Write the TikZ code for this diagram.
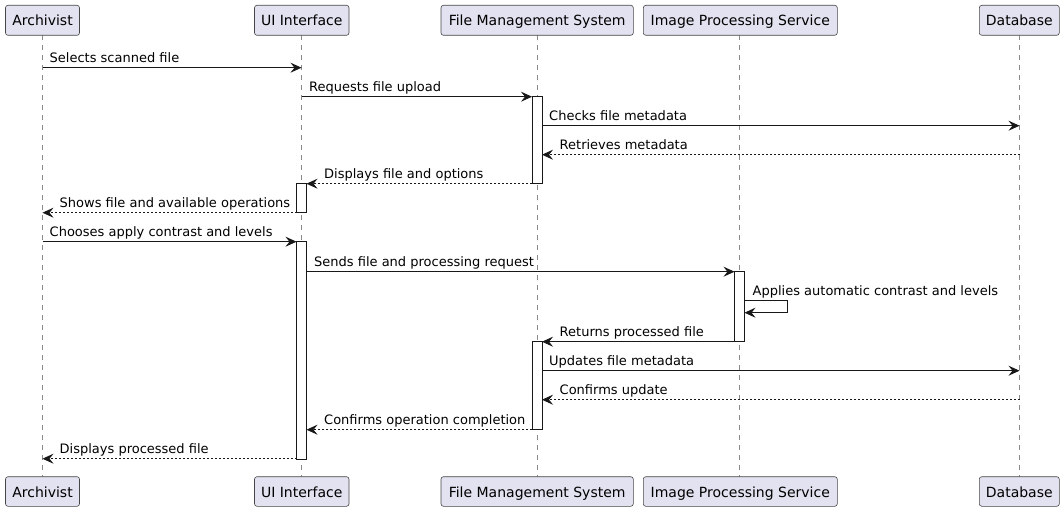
\documentclass[tikz,border=0pt]{standalone}
\usepackage{fontspec}
\setmainfont{DejaVu Sans}
\usetikzlibrary{arrows.meta}
\definecolor{pbox}{HTML}{E2E2F0}
\definecolor{pline}{HTML}{181818}
\definecolor{lline}{HTML}{8A8A8A}
\tikzset{
  partbox/.style={draw=pline!80, fill=pbox, line width=0.6pt, rounded corners=2.5pt},
  parttext/.style={inner sep=0pt, anchor=base, font=\fontsize{14}{16}\selectfont, text=black},
  lifeline/.style={draw=lline, line width=0.6pt, dash pattern=on 5pt off 5pt},
  actbox/.style={draw=pline, fill=white, line width=0.8pt},
  msg/.style={draw=pline, line width=0.9pt, -{Stealth[length=11pt,width=10pt,inset=4pt]}},
  ret/.style={msg, dash pattern=on 2pt off 2pt},
  lbl/.style={inner sep=0pt, anchor=base west, font=\fontsize{13}{15}\selectfont, text=black},
}
\begin{document}
\begin{tikzpicture}[x=1pt,y=-1pt]
\useasboundingbox (0,0) rectangle (1064,511);
% participant boxes (top and bottom)
\def\participant#1#2#3#4{%
  \draw[partbox] (#2,5.3) rectangle (#3,35.3);
  \node[parttext] (#1top) at ({(#2+#3)/2},26) {#4};
  \draw[partbox] (#2,476.7) rectangle (#3,506.3);
  \node[parttext] (#1bot) at ({(#2+#3)/2},497.5) {#4};
}
% lifelines
\coordinate (lAt) at (42.5,35.3);   \coordinate (lAb) at (42.5,476.7);
\coordinate (lUt) at (301.5,35.3);  \coordinate (lUb) at (301.5,476.7);
\coordinate (lFt) at (537,35.3);    \coordinate (lFb) at (537,476.7);
\coordinate (lIt) at (739.5,35.3);  \coordinate (lIb) at (739.5,476.7);
\coordinate (lDt) at (1019.5,35.3); \coordinate (lDb) at (1019.5,476.7);
\foreach \p in {A,U,F,I,D} {\draw[lifeline] (l\p t) -- (l\p b);}
\participant{A}{5.5}{79.5}{Archivist}
\participant{U}{254.5}{349}{UI Interface}
\participant{F}{441}{633.3}{File Management System}
\participant{I}{643.3}{837.3}{Image Processing Service}
\participant{D}{979.3}{1059.3}{Database}
% activation bars
\draw[actbox] (532,96.7) rectangle (542,183.7);
\draw[actbox] (296.5,183.7) rectangle (306.5,212.7);
\draw[actbox] (296.5,241.7) rectangle (306.5,459.3);
\draw[actbox] (734.5,271.7) rectangle (744.5,341.7);
\draw[actbox] (532,341.7) rectangle (542,429.7);
% message endpoints
\coordinate (m1s) at (42.5,67.7);   \coordinate (m1e) at (301.5,67.7);
\coordinate (m2s) at (301.5,96.7);  \coordinate (m2e) at (532,96.7);
\coordinate (m3s) at (542,125.7);   \coordinate (m3e) at (1019.5,125.7);
\coordinate (m4s) at (1019.5,154.7);\coordinate (m4e) at (542,154.7);
\coordinate (m5s) at (532,183.7);   \coordinate (m5e) at (306.5,183.7);
\coordinate (m6s) at (296.5,212.7); \coordinate (m6e) at (42.5,212.7);
\coordinate (m7s) at (42.5,241.7);  \coordinate (m7e) at (296.5,241.7);
\coordinate (m8s) at (306.5,271.7); \coordinate (m8e) at (734.5,271.7);
\coordinate (m9s) at (744.5,300.7); \coordinate (m9a) at (787,300.7);
\coordinate (m9b) at (787,312.7);   \coordinate (m9e) at (744.5,312.7);
\coordinate (m10s) at (734.5,341.7);\coordinate (m10e) at (542,341.7);
\coordinate (m11s) at (542,370.7);  \coordinate (m11e) at (1019.5,370.7);
\coordinate (m12s) at (1019.5,399.7);\coordinate (m12e) at (542,399.7);
\coordinate (m13s) at (532,429.7);  \coordinate (m13e) at (306.5,429.7);
\coordinate (m14s) at (296.5,458.7);\coordinate (m14e) at (42.5,458.7);
% messages
\draw[msg] (m1s) -- (m1e);
\node[lbl] (t1) at (49.5,62.7) {Selects scanned file};
\draw[msg] (m2s) -- (m2e);
\node[lbl] (t2) at (309,91.7) {Requests file upload};
\draw[msg] (m3s) -- (m3e);
\node[lbl] (t3) at (549,120.7) {Checks file metadata};
\draw[ret] (m4s) -- (m4e);
\node[lbl] (t4) at (559.5,149.7) {Retrieves metadata};
\draw[ret] (m5s) -- (m5e);
\node[lbl] (t5) at (324,178.7) {Displays file and options};
\draw[ret] (m6s) -- (m6e);
\node[lbl] (t6) at (59.5,207.7) {Shows file and available operations};
\draw[msg] (m7s) -- (m7e);
\node[lbl] (t7) at (49.5,236.7) {Chooses apply contrast and levels};
\draw[msg] (m8s) -- (m8e);
\node[lbl] (t8) at (314,266.7) {Sends file and processing request};
\draw[msg] (m9s) -- (m9a) -- (m9b) -- (m9e);
\node[lbl] (t9) at (752.5,295.7) {Applies automatic contrast and levels};
\draw[msg] (m10s) -- (m10e);
\node[lbl] (t10) at (559.5,336.7) {Returns processed file};
\draw[msg] (m11s) -- (m11e);
\node[lbl] (t11) at (549,365.7) {Updates file metadata};
\draw[ret] (m12s) -- (m12e);
\node[lbl] (t12) at (559.5,394.7) {Confirms update};
\draw[ret] (m13s) -- (m13e);
\node[lbl] (t13) at (324,424.7) {Confirms operation completion};
\draw[ret] (m14s) -- (m14e);
\node[lbl] (t14) at (59.5,453.7) {Displays processed file};
\end{tikzpicture}
\end{document}
